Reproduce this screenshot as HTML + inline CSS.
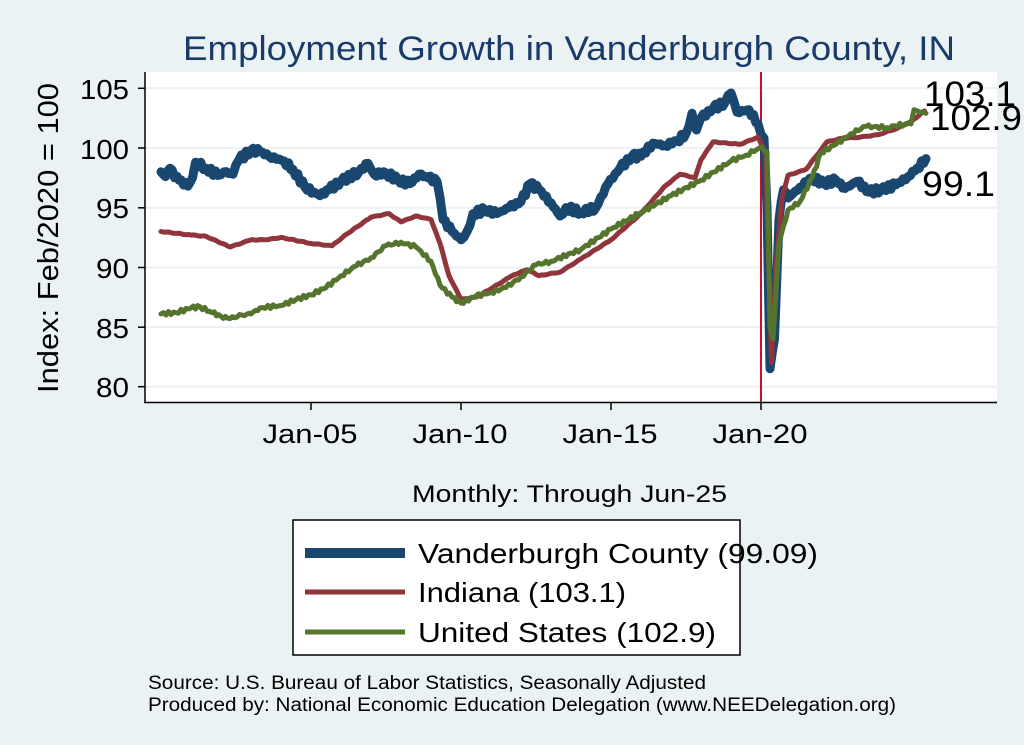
<!DOCTYPE html>
<html><head><meta charset="utf-8">
<style>
html,body{margin:0;padding:0;background:#eaf2f3;}
svg{display:block;font-family:"Liberation Sans",Arial,sans-serif;}
</style></head>
<body>
<svg id="s" width="1024" height="745" viewBox="0 0 1024 745" xmlns="http://www.w3.org/2000/svg">
<rect x="0" y="0" width="1024" height="745" fill="#eaf2f3"/>
<rect x="145" y="72" width="852" height="330" fill="#ffffff"/>
<g stroke="#eaf2f3" stroke-width="2">
<line x1="146" x2="997" y1="88.3" y2="88.3"/>
<line x1="146" x2="997" y1="148" y2="148"/>
<line x1="146" x2="997" y1="207.8" y2="207.8"/>
<line x1="146" x2="997" y1="267.5" y2="267.5"/>
<line x1="146" x2="997" y1="327.2" y2="327.2"/>
<line x1="146" x2="997" y1="386.7" y2="386.7"/>
</g>
<g stroke="#000" stroke-width="1.5">
<line x1="145" y1="72" x2="145" y2="403"/>
<line x1="144" y1="402.5" x2="997" y2="402.5"/>
<line x1="138" x2="145" y1="88.3" y2="88.3"/>
<line x1="138" x2="145" y1="148" y2="148"/>
<line x1="138" x2="145" y1="207.8" y2="207.8"/>
<line x1="138" x2="145" y1="267.5" y2="267.5"/>
<line x1="138" x2="145" y1="327.2" y2="327.2"/>
<line x1="138" x2="145" y1="386.7" y2="386.7"/>
<line x1="311" x2="311" y1="402" y2="410"/>
<line x1="461" x2="461" y1="402" y2="410"/>
<line x1="611" x2="611" y1="402" y2="410"/>
<line x1="761" x2="761" y1="402" y2="410"/>
</g>
<g font-size="28" text-anchor="end" fill="#000">
<text x="129" y="99" textLength="49" lengthAdjust="spacingAndGlyphs">105</text>
<text x="129" y="159" textLength="49" lengthAdjust="spacingAndGlyphs">100</text>
<text x="129" y="218" textLength="33" lengthAdjust="spacingAndGlyphs">95</text>
<text x="129" y="278" textLength="33" lengthAdjust="spacingAndGlyphs">90</text>
<text x="129" y="338" textLength="33" lengthAdjust="spacingAndGlyphs">85</text>
<text x="129" y="397" textLength="33" lengthAdjust="spacingAndGlyphs">80</text>
</g>
<g font-size="27" text-anchor="middle" fill="#000">
<text x="310" y="443" textLength="95" lengthAdjust="spacingAndGlyphs">Jan-05</text>
<text x="460" y="443" textLength="95" lengthAdjust="spacingAndGlyphs">Jan-10</text>
<text x="610" y="443" textLength="95" lengthAdjust="spacingAndGlyphs">Jan-15</text>
<text x="760" y="443" textLength="95" lengthAdjust="spacingAndGlyphs">Jan-20</text>
</g>
<text x="412" y="502" font-size="24" textLength="315" lengthAdjust="spacingAndGlyphs">Monthly: Through Jun-25</text>
<text transform="translate(58,238) rotate(-90)" font-size="29" text-anchor="middle" textLength="310" lengthAdjust="spacingAndGlyphs">Index: Feb/2020 = 100</text>
<text x="183" y="60" font-size="34" textLength="772" lengthAdjust="spacingAndGlyphs" fill="#1a3a6a">Employment Growth in Vanderburgh  County, IN</text>
<line x1="761" y1="72" x2="761" y2="402" stroke="#c8102e" stroke-width="2"/>
<g id="series" fill="none" stroke-linejoin="round" stroke-linecap="round"></g>
<g font-size="35" fill="#000">
<text x="924" y="106" textLength="92" lengthAdjust="spacingAndGlyphs">103.1</text>
<text x="930" y="130" textLength="92" lengthAdjust="spacingAndGlyphs">102.9</text>
<text x="922" y="196" textLength="73" lengthAdjust="spacingAndGlyphs">99.1</text>
</g>
<rect x="293" y="520" width="447" height="135" fill="#fff" stroke="#000" stroke-width="1.5"/>
<line x1="305" y1="553" x2="405" y2="553" stroke="#1a476f" stroke-width="10"/>
<line x1="305" y1="592" x2="405" y2="592" stroke="#90353b" stroke-width="5"/>
<line x1="305" y1="632" x2="405" y2="632" stroke="#55752f" stroke-width="5"/>
<g font-size="28" fill="#000">
<text x="418" y="563" textLength="400" lengthAdjust="spacingAndGlyphs">Vanderburgh  County (99.09)</text>
<text x="418" y="602" textLength="208" lengthAdjust="spacingAndGlyphs">Indiana (103.1)</text>
<text x="418" y="642" textLength="298" lengthAdjust="spacingAndGlyphs">United States (102.9)</text>
</g>
<g font-size="19" fill="#000">
<text x="148" y="689" textLength="558" lengthAdjust="spacingAndGlyphs">Source: U.S. Bureau of Labor Statistics, Seasonally Adjusted</text>
<text x="148" y="711" textLength="748" lengthAdjust="spacingAndGlyphs">Produced by: National Economic Education Delegation (www.NEEDelegation.org)</text>
</g>
</svg>
<script>
function X(t){return 161+(t-2000)*30;}
function Y(v){return 386.7-(v-80)*11.94;}
var blue=[[2000,98],[2000.15,97.6],[2000.3,98.3],[2000.45,97.5],[2000.6,97.3],[2000.9,96.8],[2001.05,97.5],[2001.15,98.8],[2001.5,98.3],[2001.9,97.7],[2002.1,98.0],[2002.4,97.8],[2002.6,99],[2003,99.8],[2003.3,99.7],[2003.6,99.3],[2004.1,98.9],[2004.4,98.2],[2004.8,96.7],[2005.1,96.3],[2005.3,96],[2005.6,96.5],[2006,97.2],[2006.6,98.0],[2006.9,98.7],[2007.1,97.8],[2007.5,97.9],[2007.9,97.3],[2008.3,97.0],[2008.6,97.8],[2008.9,97.5],[2009.2,97.2],[2009.4,94],[2009.7,93],[2010,92.3],[2010.2,93],[2010.4,94.5],[2010.8,94.8],[2011.2,94.5],[2011.6,95],[2012,95.5],[2012.3,97],[2012.6,96.5],[2013,95.4],[2013.3,94.3],[2013.5,95.0],[2014,94.6],[2014.5,95.0],[2014.9,97],[2015.3,98.3],[2015.7,99.3],[2016,99.3],[2016.4,100.4],[2016.8,100.2],[2017.2,100.6],[2017.5,101.2],[2017.7,102.9],[2017.85,101.5],[2018,102.5],[2018.4,103.3],[2018.8,103.8],[2019,104.6],[2019.2,103],[2019.6,103.2],[2019.9,102.0],[2020.1,100.8],[2020.2,95],[2020.3,81.5],[2020.45,84],[2020.6,94],[2020.75,96.5],[2020.9,95.8],[2021.3,96.7],[2021.7,97.5],[2022.1,97.0],[2022.5,97.3],[2022.8,96.6],[2023.2,97.2],[2023.6,96.3],[2024,96.5],[2024.5,96.9],[2024.9,97.6],[2025.2,98.3],[2025.5,99.1]];
var red=[[2000,93.0],[2001,92.7],[2001.5,92.6],[2002.3,91.7],[2003,92.3],[2003.5,92.3],[2004,92.5],[2005,92.0],[2005.7,91.8],[2006.2,92.8],[2007,94.2],[2007.6,94.5],[2008,93.8],[2008.5,94.3],[2009,94.0],[2009.3,92],[2009.6,89.3],[2010,87.3],[2010.5,87.5],[2011,88.2],[2011.7,89.3],[2012.2,89.8],[2012.6,89.3],[2013.3,89.6],[2014,90.7],[2015,92.3],[2016,94.5],[2016.8,96.8],[2017.3,97.8],[2017.8,97.5],[2018,99],[2018.4,100.5],[2019.3,100.3],[2019.9,100.9],[2020.15,99.5],[2020.35,82],[2020.5,90],[2020.7,95.8],[2020.9,97.7],[2021.5,98.2],[2022.2,100.5],[2022.7,100.8],[2023.3,100.9],[2023.9,101.1],[2024.5,101.6],[2025.0,102.2],[2025.45,103.1]];
var green=[[2000,86.1],[2000.5,86.2],[2001,86.6],[2001.3,86.7],[2001.7,86.2],[2002,85.9],[2002.3,85.7],[2002.7,86.0],[2003,86.1],[2003.3,86.6],[2004,86.8],[2004.5,87.3],[2005,87.7],[2005.5,88.3],[2006,89.3],[2006.5,90.1],[2007,90.8],[2007.5,91.8],[2008,92.1],[2008.5,91.7],[2009,90.5],[2009.3,88.5],[2009.7,87.5],[2010,87.0],[2010.5,87.6],[2011,87.9],[2011.5,88.3],[2012,89.2],[2012.5,90.2],[2013,90.5],[2014,91.5],[2015,93.2],[2016,94.6],[2017,96.0],[2018,97.3],[2019,98.9],[2019.5,99.4],[2019.95,100],[2020.2,99.7],[2020.3,85],[2020.4,84],[2020.6,92],[2020.9,94.8],[2021.3,95.5],[2021.7,97.5],[2022,99.6],[2022.5,100.3],[2023,101.2],[2023.5,101.8],[2024.2,101.7],[2024.8,102],[2025,102],[2025.1,103.2],[2025.3,103],[2025.5,102.9]];
function dens(a,amp,seed){var o=[];for(var i=0;i<a.length-1;i++){var p=a[i],q=a[i+1];var n=Math.max(1,Math.round((q[0]-p[0])*12));for(var k=0;k<n;k++){var f=k/n;var v=p[1]+(q[1]-p[1])*f;if(k>0&&Math.abs(q[1]-p[1])<4)v+=amp*Math.sin(seed*(i*7+k*13));o.push([p[0]+(q[0]-p[0])*f,v]);}}o.push(a[a.length-1]);return o;}
function pts(a){return a.map(function(p){return X(p[0]).toFixed(1)+","+Y(p[1]).toFixed(1);}).join(" ");}
var g=document.getElementById("series"),ns="http://www.w3.org/2000/svg";
[[dens(blue,0.25,1.7),"#1a476f",9],[dens(red,0.03,2.3),"#90353b",5],[dens(green,0.15,3.1),"#55752f",5]].forEach(function(s){
var pl=document.createElementNS(ns,"polyline");pl.setAttribute("points",pts(s[0]));pl.setAttribute("stroke",s[1]);pl.setAttribute("stroke-width",s[2]);g.appendChild(pl);});
</script>
</body></html>
